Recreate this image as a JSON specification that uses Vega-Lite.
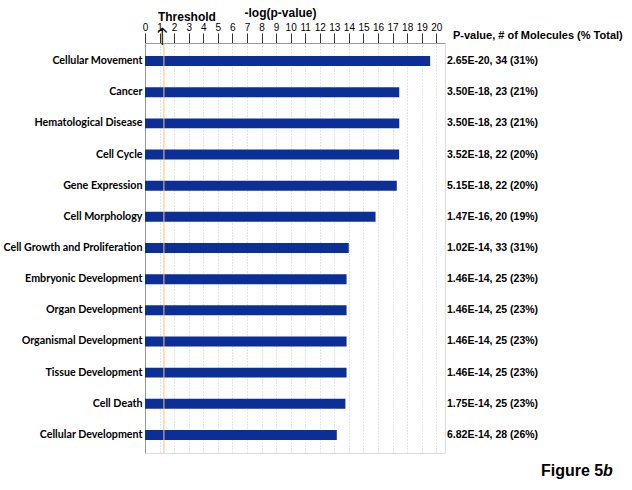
{
  "$schema": "https://vega.github.io/schema/vega-lite/v6.json",
  "autosize": "none",
  "padding": {"left": 145, "top": 43, "right": 187, "bottom": 37},
  "width": 300,
  "height": 410,
  "background": "white",
  "config": {
    "view": {"stroke": "#dddddd"},
    "font": "Liberation Sans",
    "axisX": {"tickCount": 21, "labelOverlap": false, "labelFlush": false}
  },
  "datasets": {
    "rows": [
      {"category": "Cellular Movement", "value": 19.58, "label": "2.65E-20, 34 (31%)"},
      {"category": "Cancer", "value": 17.46, "label": "3.50E-18, 23 (21%)"},
      {"category": "Hematological Disease", "value": 17.46, "label": "3.50E-18, 23 (21%)"},
      {"category": "Cell Cycle", "value": 17.45, "label": "3.52E-18, 22 (20%)"},
      {"category": "Gene Expression", "value": 17.29, "label": "5.15E-18, 22 (20%)"},
      {"category": "Cell Morphology", "value": 15.83, "label": "1.47E-16, 20 (19%)"},
      {"category": "Cell Growth and Proliferation", "value": 13.99, "label": "1.02E-14, 33 (31%)"},
      {"category": "Embryonic Development", "value": 13.84, "label": "1.46E-14, 25 (23%)"},
      {"category": "Organ Development", "value": 13.84, "label": "1.46E-14, 25 (23%)"},
      {"category": "Organismal Development", "value": 13.84, "label": "1.46E-14, 25 (23%)"},
      {"category": "Tissue Development", "value": 13.84, "label": "1.46E-14, 25 (23%)"},
      {"category": "Cell Death", "value": 13.76, "label": "1.75E-14, 25 (23%)"},
      {"category": "Cellular Development", "value": 13.17, "label": "6.82E-14, 28 (26%)"}
    ],
    "threshold": [{"threshold": 1.3}]
  },
  "layer": [
    {
      "data": {"name": "rows"},
      "mark": {"type": "bar", "color": "#0b2f97"},
      "encoding": {
        "y": {
          "field": "category",
          "type": "nominal",
          "sort": null,
          "scale": {"paddingInner": 0.68, "paddingOuter": 0.42},
          "axis": {
            "title": null,
            "ticks": false,
            "domainColor": "#999999",
            "labelFont": "Lato",
            "labelFontWeight": "bold",
            "labelFontSize": 10.7,
            "labelColor": "black",
            "labelPadding": 3
          }
        },
        "x": {
          "field": "value",
          "type": "quantitative",
          "scale": {"domain": [0, 20.6], "nice": false, "zero": true},
          "axis": {
            "orient": "top",
            "values": [0,1,2,3,4,5,6,7,8,9,10,11,12,13,14,15,16,17,18,19,20],
            "tickCount": 21,
            "title": "-log(p-value)",
            "titleFontSize": 12,
            "titleFontWeight": "bold",
            "titleX": 135,
            "titlePadding": 3,
            "labelFontSize": 10,
            "labelColor": "black",
            "labelPadding": 1,
            "labelOverlap": false,
            "tickSize": 10,
            "tickColor": "#333333",
            "domainColor": "#999999",
            "grid": true,
            "gridDash": [1, 2],
            "gridColor": "#c8c8c8",
            "labelFlush": false
          }
        }
      }
    },
    {
      "data": {"name": "threshold"},
      "mark": {"type": "rule", "color": "#f5c27a", "strokeWidth": 1},
      "encoding": {"x": {"field": "threshold", "type": "quantitative"}}
    },
    {
      "data": {"name": "threshold"},
      "mark": {"type": "text", "align": "center", "baseline": "alphabetic", "dx": -2, "dy": -16, "fontSize": 24, "font": "DejaVu Sans", "fontWeight": 200, "color": "black"},
      "encoding": {
        "x": {"field": "threshold", "type": "quantitative"},
        "y": {"datum": "Cellular Movement", "type": "nominal"},
        "text": {"value": "↑"}
      }
    },
    {
      "data": {"name": "rows"},
      "mark": {"type": "text", "align": "left", "baseline": "middle", "dx": 2, "fontWeight": "bold", "fontSize": 10.5, "font": "Liberation Sans"},
      "encoding": {
        "x": {"datum": 20.6},
        "y": {"field": "category", "type": "nominal", "sort": null},
        "text": {"field": "label"}
      }
    },
    {
      "data": {"name": "threshold"},
      "mark": {"type": "text", "align": "left", "baseline": "middle", "dx": 8, "dy": -25, "fontWeight": "bold", "fontSize": 11, "font": "Liberation Sans"},
      "encoding": {
        "x": {"datum": 20.6},
        "y": {"datum": "Cellular Movement", "type": "nominal"},
        "text": {"value": "P-value, # of Molecules (% Total)"}
      }
    },
    {
      "data": {"name": "threshold"},
      "mark": {"type": "text", "align": "left", "baseline": "middle", "dx": -6, "dy": -44.5, "fontWeight": "bold", "fontSize": 12, "font": "Liberation Sans"},
      "encoding": {
        "x": {"field": "threshold", "type": "quantitative"},
        "y": {"datum": "Cellular Movement", "type": "nominal"},
        "text": {"value": "Threshold"}
      }
    },
    {
      "data": {"name": "threshold"},
      "mark": {"type": "text", "align": "left", "baseline": "middle", "dx": 96, "dy": 36, "fontWeight": "bold", "fontSize": 16, "font": "Liberation Sans"},
      "encoding": {
        "x": {"datum": 20.6},
        "y": {"datum": "Cellular Development", "type": "nominal"},
        "text": {"value": "Figure 5"}
      }
    },
    {
      "data": {"name": "threshold"},
      "mark": {"type": "text", "align": "left", "baseline": "middle", "dx": 158, "dy": 36, "fontWeight": "bold", "fontStyle": "italic", "fontSize": 16, "font": "Liberation Sans"},
      "encoding": {
        "x": {"datum": 20.6},
        "y": {"datum": "Cellular Development", "type": "nominal"},
        "text": {"value": "b"}
      }
    }
  ]
}
